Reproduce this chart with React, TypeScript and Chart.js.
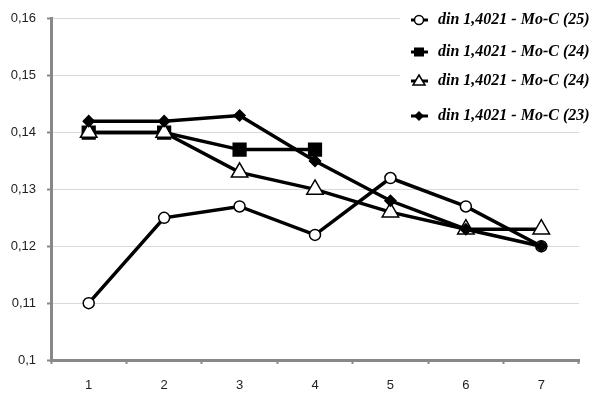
import React, { useEffect, useRef } from "react";
import { Chart, registerables } from "chart.js";

Chart.register(...registerables);

const categories = ["1", "2", "3", "4", "5", "6", "7"];
const seriesLabels = [
  "din 1,4021 - Mo-C (25)",
  "din 1,4021 - Mo-C (24)",
  "din 1,4021 - Mo-C (24)",
  "din 1,4021 - Mo-C (23)",
];
const circleSeries = [0.11, 0.125, 0.127, 0.122, 0.132, 0.127, 0.12];
const squareSeries = [0.14, 0.14, 0.137, 0.137, null, null, null];
const triangleSeries = [0.14, 0.14, 0.133, 0.13, 0.126, 0.123, 0.123];
const diamondSeries = [0.142, 0.142, 0.143, 0.135, 0.128, 0.123, 0.12];

const W = 593;
const H = 394;

function drawMarker(ctx: CanvasRenderingContext2D, kind: string, x: number, y: number) {
  ctx.save();
  ctx.lineWidth = 1.5;
  ctx.strokeStyle = "#000";
  ctx.beginPath();
  if (kind === "circle") {
    ctx.arc(x, y, 4.5, 0, Math.PI * 2);
    ctx.fillStyle = "#fff";
    ctx.fill();
    ctx.stroke();
  } else if (kind === "rect") {
    ctx.fillStyle = "#000";
    ctx.fillRect(x - 5, y - 4.5, 10, 9);
  } else if (kind === "triangle") {
    ctx.moveTo(x, y - 6);
    ctx.lineTo(x + 6, y + 4);
    ctx.lineTo(x - 6, y + 4);
    ctx.closePath();
    ctx.fillStyle = "#fff";
    ctx.fill();
    ctx.stroke();
  } else {
    ctx.moveTo(x, y - 5);
    ctx.lineTo(x + 5, y);
    ctx.lineTo(x, y + 5);
    ctx.lineTo(x - 5, y);
    ctx.closePath();
    ctx.fillStyle = "#000";
    ctx.fill();
  }
  ctx.restore();
}

const legendPlugin = {
  id: "customLegend",
  afterDraw(chart: any) {
    const ctx = chart.ctx as CanvasRenderingContext2D;
    ctx.save();
    ctx.fillStyle = "#fff";
    ctx.fillRect(400, 0, W - 400, 125);
    const rows = [20, 52, 81, 116];
    const kinds = ["circle", "rect", "triangle", "diamond"];
    rows.forEach((y, i) => {
      ctx.strokeStyle = "#000";
      ctx.lineWidth = 3;
      ctx.beginPath();
      ctx.moveTo(411, y);
      ctx.lineTo(428, y);
      ctx.stroke();
      drawMarker(ctx, kinds[i], 419, y);
      ctx.fillStyle = "#000";
      ctx.font = "bold italic 16px 'Liberation Serif', 'Times New Roman', serif";
      ctx.textBaseline = "middle";
      ctx.textAlign = "left";
      ctx.fillText(seriesLabels[i], 438, y);
    });
    ctx.restore();
  },
};

export default function App() {
  const ref = useRef<HTMLCanvasElement | null>(null);
  useEffect(() => {
    document.body.style.margin = "0";
    const canvas = ref.current!;
    const common = {
      borderColor: "#000",
      borderWidth: 3.5,
      pointBorderColor: "#000",
      pointBorderWidth: 1.5,
      spanGaps: false,
    };
    const chart = new Chart(canvas, {
      type: "line",
      data: {
        labels: categories,
        datasets: [
          {
            ...common,
            label: seriesLabels[0],
            data: circleSeries,
            pointStyle: "circle",
            pointRadius: 5.5,
            pointBackgroundColor: "#fff",
            order: 3,
          },
          {
            ...common,
            label: seriesLabels[1],
            data: squareSeries,
            pointStyle: "rect",
            pointRadius: 9,
            pointBackgroundColor: "#000",
            order: 2,
          },
          {
            ...common,
            label: seriesLabels[2],
            data: triangleSeries,
            pointStyle: "triangle",
            pointRadius: 9.5,
            pointBackgroundColor: "#fff",
            order: 1,
          },
          {
            ...common,
            label: seriesLabels[3],
            data: diamondSeries,
            pointStyle: "rectRot",
            pointRadius: 5.5,
            pointBackgroundColor: "#000",
            order: 0,
          },
        ] as any,
      },
      options: {
        responsive: false,
        animation: false,
        devicePixelRatio: 1,
        layout: { padding: { left: 0, right: 14, top: 17, bottom: 0 } },
        plugins: { legend: { display: false }, tooltip: { enabled: false } },
        scales: {
          x: {
            type: "category",
            offset: true,
            grid: {
              offset: true,
              drawOnChartArea: false,
              drawTicks: true,
              tickLength: 4,
              tickColor: "#888",
              tickWidth: 2,
            },
            border: { color: "#888", width: 3 },
            ticks: {
              color: "#222",
              font: { family: "'Liberation Sans', Arial, sans-serif", size: 13 },
              padding: 14,
            },
            afterFit: (s: any) => {
              s.height = 34;
            },
          },
          y: {
            min: 0.1,
            max: 0.16,
            grid: {
              color: "#d9d9d9",
              lineWidth: 1,
              drawTicks: true,
              tickLength: 4,
              tickColor: "#888",
              tickWidth: 2,
            },
            border: { color: "#888", width: 3 },
            ticks: {
              stepSize: 0.01,
              color: "#222",
              font: { family: "'Liberation Sans', Arial, sans-serif", size: 13 },
              padding: 11,
              callback: (v: any) => {
                const n = Math.round(Number(v) * 100) / 100;
                return String(n).replace(".", ",");
              },
            },
            afterFit: (s: any) => {
              s.width = 51;
            },
          },
        },
      },
      plugins: [legendPlugin],
    } as any);
    return () => chart.destroy();
  }, []);
  return (
    <div style={{ position: "absolute", left: 0, top: 0, width: W, height: H }}>
      <canvas ref={ref} width={W} height={H} style={{ width: W, height: H }} />
    </div>
  );
}
